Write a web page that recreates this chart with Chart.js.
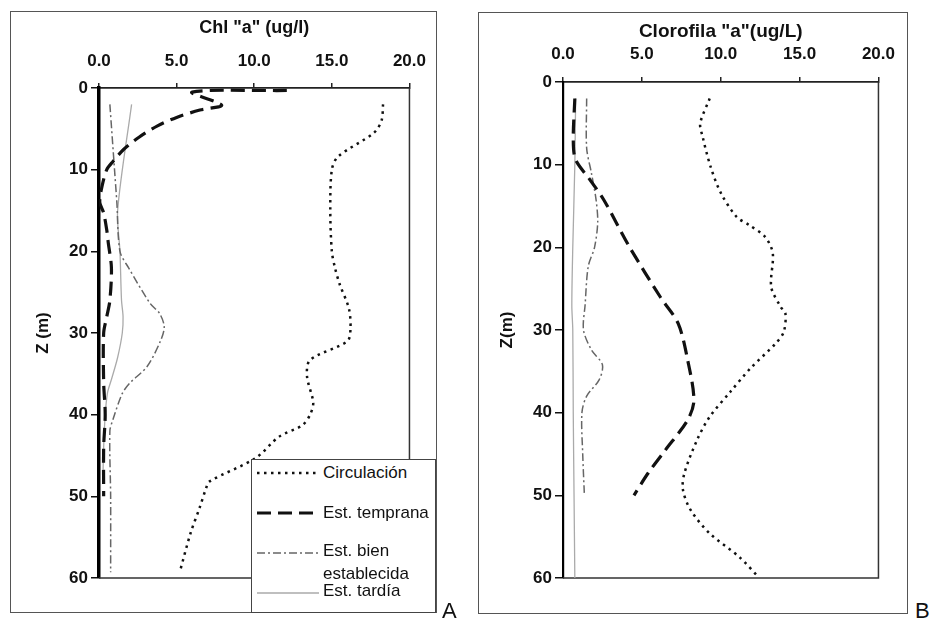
<!DOCTYPE html>
<html>
<head>
<meta charset="utf-8">
<script src="https://cdn.jsdelivr.net/npm/chart.js@4.4.0/dist/chart.umd.min.js"></script>
<style>
  body { margin: 0; width: 931px; height: 620px; position: relative; overflow: hidden; background: #fff;
         font-family: "Liberation Sans", Arial, sans-serif; color: #111; }
  canvas { position: absolute; }
  .frame { position: absolute; border: 1px solid #555; box-sizing: border-box; }
  #legend { position: absolute; left: 251px; top: 459px; width: 185px; height: 154px; background: #fff;
            border: 1px solid #444; box-sizing: border-box; }
  #legend svg { position: absolute; left: 5px; }
  #legend span { position: absolute; left: 71px; font-size: 17px; line-height: 20px; white-space: nowrap; }
  .tag { position: absolute; font-size: 22px; }
</style>
</head>
<body>
<div class="frame" style="left:10px;top:11px;width:427px;height:602px"></div>
<div class="frame" style="left:478px;top:12px;width:430px;height:602px"></div>
<canvas id="chartA" width="427" height="601" style="left:10px;top:11px"></canvas>
<canvas id="chartB" width="429" height="601" style="left:478px;top:12px"></canvas>
<div id="legend"></div>
<div class="tag" style="left:442px;top:598px">A</div>
<div class="tag" style="left:915px;top:598px">B</div>

<script>
// series names
const seriesNames = ["Circulación", "Est. temprana", "Est. bien establecida", "Est. tardía"];

// Panel A - depth (m) and Chl "a" (ug/l)
const depthCircA = [2, 4, 5.5, 8.4, 10, 15, 20, 22, 24, 27, 29.5, 31, 33.3, 35.3, 38.5, 40, 41.3, 42.7, 45.3, 48.2, 49, 51.3, 54.5, 59.3];
const circA      = [18.3, 18.2, 17.7, 15.4, 15.0, 14.9, 15.0, 15.2, 15.5, 16.1, 16.2, 16.0, 13.6, 13.4, 13.8, 13.6, 13.1, 11.6, 10.1, 7.1, 6.9, 6.5, 5.9, 5.2];
const depthTempA = [0.3, 0.5, 2.1, 2.7, 3.6, 4.6, 6, 7.5, 9, 10, 12, 14, 15.3, 17.4, 19, 22, 26, 28, 30, 36, 40, 44, 50];
const tempA      = [12.1, 6.0, 7.9, 6.5, 5.0, 3.8, 2.6, 1.6, 0.9, 0.5, 0.2, 0.05, 0.3, 0.5, 0.6, 0.8, 0.7, 0.5, 0.3, 0.3, 0.4, 0.3, 0.3];
const depthBienA = [2, 10, 14, 20, 22, 26.4, 27.6, 29.2, 30.8, 34.1, 36.1, 37.4, 40.6, 42, 50, 59.3];
const bienA      = [0.7, 1.0, 1.15, 1.35, 1.9, 3.3, 3.9, 4.2, 4.0, 3.1, 2.0, 1.5, 0.9, 0.7, 0.75, 0.75];
const depthTardA = [2, 15, 20, 26, 28, 30, 33, 35.7, 37.3, 40, 44, 48];
const tardA      = [2.1, 1.2, 1.35, 1.45, 1.55, 1.5, 1.2, 0.8, 0.55, 0.4, 0.3, 0.25];

// Panel B - depth (m) and Clorofila "a" (ug/L)
const depthCircB = [2, 5, 6.6, 10.2, 13.4, 16.3, 17.3, 18.7, 20.7, 24.8, 27.2, 28, 30.2, 31.6, 34.6, 37.5, 40.5, 43.3, 47.3, 49.3, 51.8, 54.6, 57.5, 59.9];
const circB      = [9.3, 8.7, 8.85, 9.35, 10.0, 11.0, 11.8, 12.8, 13.3, 13.2, 13.8, 14.1, 14.0, 13.5, 11.9, 10.6, 9.3, 8.5, 7.7, 7.6, 8.1, 9.3, 11.2, 12.4];
const depthTempB = [2, 7, 9.4, 11.8, 14.3, 19.9, 26.1, 29.2, 33.6, 38.5, 40.9, 44.5, 47.3, 50];
const tempB      = [0.75, 0.65, 0.8, 1.7, 2.6, 4.2, 6.2, 7.3, 7.9, 8.3, 7.9, 6.5, 5.4, 4.5];
const depthBienB = [2, 8, 11, 14.3, 17, 20, 22.3, 27, 30, 32.4, 34.2, 36, 38, 40, 45, 49.7];
const bienB      = [1.5, 1.5, 1.8, 2.1, 2.2, 2.0, 1.6, 1.4, 1.3, 1.8, 2.5, 2.3, 1.5, 1.2, 1.25, 1.35];
const depthTardB = [2, 10, 20, 27, 30, 40, 50, 60];
const tardB      = [0.8, 0.75, 0.62, 0.56, 0.62, 0.65, 0.7, 0.75];

const xTicks = [0, 5, 10, 15, 20];
const zTicks = [0, 10, 20, 30, 40, 50, 60];

const fam = '"Liberation Sans", Arial, sans-serif';
const styles = [
  { color: "#111", width: 2.5, dash: [2.5, 4.5] },
  { color: "#111", width: 3.2, dash: [14, 7] },
  { color: "#666", width: 1.5, dash: [8, 3, 2, 3] },
  { color: "#aaa", width: 1.3, dash: [] },
];

function pts(depths, vals) {
  return vals.map((v, i) => ({ x: v, y: depths[i] }));
}

function makeSets(list) {
  return list.map((d, i) => ({
    label: seriesNames[i],
    data: d,
    showLine: true,
    borderColor: styles[i].color,
    borderWidth: styles[i].width,
    borderDash: styles[i].dash,
    pointRadius: 0,
    tension: 0.3,
    fill: false,
  }));
}

// thin frame around the plot area (right/bottom)
const plotFrame = {
  id: "plotFrame",
  beforeDatasetsDraw(chart) {
    const a = chart.chartArea, ctx = chart.ctx;
    ctx.save();
    ctx.strokeStyle = "#333";
    ctx.lineWidth = 1.5;
    ctx.beginPath();
    ctx.moveTo(a.left, a.bottom);
    ctx.lineTo(a.right, a.bottom);
    ctx.lineTo(a.right, a.top);
    ctx.stroke();
    ctx.restore();
  },
};

function createChart(id, sets, cfg) {
  new Chart(document.getElementById(id), {
    type: "scatter",
    data: { datasets: sets },
    options: {
      responsive: false,
      animation: false,
      layout: { padding: { left: 0, top: 0, right: cfg.padRight, bottom: cfg.padBottom } },
      plugins: { legend: { display: false }, tooltip: { enabled: false } },
      scales: {
        x: {
          type: "linear", position: "top", min: 0, max: 20,
          afterBuildTicks: (s) => { s.ticks = xTicks.map((v) => ({ value: v })); },
          ticks: { callback: (v) => v.toFixed(1), font: { family: fam, size: 17, weight: "bold" }, color: "#111", padding: cfg.xPad, maxRotation: 0 },
          grid: { drawOnChartArea: false, tickLength: 5, color: "#222", lineWidth: 1.5 },
          border: { display: true, color: "#222", width: 1.8 },
          title: { display: true, text: cfg.xTitle, font: { family: fam, size: cfg.titleSize, weight: "bold" }, color: "#111", padding: { top: cfg.titlePad, bottom: 0 } },
          afterFit: (s) => { s.height = cfg.xHeight; },
        },
        y: {
          type: "linear", reverse: true, min: 0, max: 60,
          afterBuildTicks: (s) => { s.ticks = zTicks.map((v) => ({ value: v })); },
          ticks: { font: { family: fam, size: 17, weight: "bold" }, color: "#111", padding: 3 },
          grid: { drawOnChartArea: false, tickLength: 8, color: "#111", lineWidth: 1.5 },
          border: { display: true, color: "#000", width: cfg.yBorder },
          title: { display: true, text: cfg.yTitle, font: { family: fam, size: 17, weight: "bold" }, color: "#111", padding: { top: cfg.yTitlePad, bottom: 0 } },
          afterFit: (s) => { s.width = cfg.yWidth; },
        },
      },
    },
    plugins: [plotFrame],
  });
}

createChart("chartA", makeSets([pts(depthCircA, circA), pts(depthTempA, tempA), pts(depthBienA, bienA), pts(depthTardA, tardA)]), {
  xTitle: 'Chl "a" (ug/l)', yTitle: "Z (m)", titleSize: 18, titlePad: 6, xPad: 11,
  xHeight: 77, yWidth: 89, yTitlePad: 23, yBorder: 3.5, padRight: 26, padBottom: 34,
});

createChart("chartB", makeSets([pts(depthCircB, circB), pts(depthTempB, tempB), pts(depthBienB, bienB), pts(depthTardB, tardB)]), {
  xTitle: 'Clorofila "a"(ug/L)', yTitle: "Z(m)", titleSize: 19, titlePad: 8, xPad: 12,
  xHeight: 70, yWidth: 85, yTitlePad: 19, yBorder: 2.2, padRight: 23, padBottom: 35,
});

// legend of panel A
const legend = document.getElementById("legend");
const sampleY = [13, 53, 93, 133];
const textRows = [["Circulación", 13], ["Est. temprana", 53], ["Est. bien", 91], ["establecida", 114], ["Est. tardía", 131]];
styles.forEach((st, i) => {
  const svg = document.createElementNS("http://www.w3.org/2000/svg", "svg");
  svg.setAttribute("width", "62");
  svg.setAttribute("height", "10");
  svg.style.top = (sampleY[i] - 5) + "px";
  const ln = document.createElementNS("http://www.w3.org/2000/svg", "line");
  ln.setAttribute("x1", "0"); ln.setAttribute("y1", "5");
  ln.setAttribute("x2", "62"); ln.setAttribute("y2", "5");
  ln.setAttribute("stroke", st.color);
  ln.setAttribute("stroke-width", st.width);
  if (st.dash.length) ln.setAttribute("stroke-dasharray", st.dash.join(" "));
  svg.appendChild(ln);
  legend.appendChild(svg);
});
textRows.forEach(([t, y]) => {
  const s = document.createElement("span");
  s.textContent = t;
  s.style.top = (y - 10) + "px";
  legend.appendChild(s);
});
</script>
</body>
</html>
